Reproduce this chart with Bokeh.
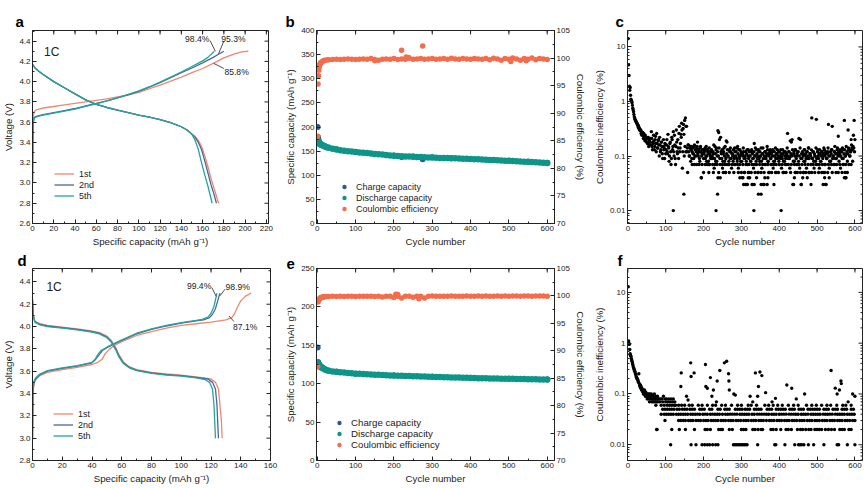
import math
from bokeh.plotting import figure
from bokeh.models import (LinearAxis, Range1d, SingleIntervalTicker, FixedTicker, PrintfTickFormatter,
                          Legend, LegendItem, Label, CustomJSTickFormatter)
from bokeh.layouts import row, column
from bokeh.embed import file_html
from bokeh.resources import INLINE

FONT = "Liberation Sans"
INK = "#222222"
C1, C2, C5 = "#F2876F", "#4B6798", "#22A59F"
C_CH, C_DIS, C_CE = "#2E5B8C", "#0E958A", "#F36C4C"

# ---------------- panel a : voltage profiles (cell 1) ----------------
a1_ch_cap = [0, 0.3, 0.7, 1.5, 3, 6, 10, 20, 30, 40, 50, 60, 70, 80, 90, 100, 110, 120, 130, 140, 150, 160, 170, 180, 190, 197, 203]
a1_ch_v = [3.00, 3.45, 3.66, 3.70, 3.72, 3.73, 3.74, 3.755, 3.77, 3.785, 3.80, 3.815, 3.83, 3.85, 3.87, 3.895, 3.93, 3.965, 4.005, 4.045, 4.09, 4.13, 4.18, 4.235, 4.275, 4.295, 4.30]
a2_ch_cap = [0, 0.3, 0.7, 1.5, 3, 6, 10, 20, 30, 40, 50, 60, 70, 80, 90, 100, 110, 120, 130, 140, 150, 160, 170, 175, 180]
a2_ch_v = [3.00, 3.40, 3.60, 3.645, 3.655, 3.665, 3.675, 3.695, 3.715, 3.735, 3.76, 3.785, 3.81, 3.84, 3.87, 3.905, 3.945, 3.99, 4.04, 4.09, 4.135, 4.185, 4.24, 4.27, 4.30]
a5_ch_cap = [0, 0.3, 0.7, 1.5, 3, 6, 10, 20, 30, 40, 50, 60, 70, 80, 90, 100, 110, 120, 130, 140, 150, 160, 165, 171]
a5_ch_v = [3.00, 3.38, 3.59, 3.635, 3.65, 3.66, 3.67, 3.69, 3.71, 3.73, 3.755, 3.78, 3.81, 3.84, 3.875, 3.91, 3.95, 3.995, 4.045, 4.095, 4.15, 4.205, 4.24, 4.30]
a1_dis_cap = [0, 2, 5, 10, 20, 30, 40, 50, 60, 70, 80, 90, 100, 110, 120, 130, 140, 145, 150, 153, 156, 159, 162, 165, 168, 171, 173, 175]
a1_dis_v = [4.17, 4.14, 4.11, 4.07, 4.00, 3.94, 3.88, 3.82, 3.775, 3.745, 3.72, 3.695, 3.67, 3.65, 3.625, 3.595, 3.555, 3.525, 3.48, 3.46, 3.42, 3.36, 3.27, 3.16, 3.04, 2.94, 2.87, 2.80]
a2_dis_cap = [0, 2, 5, 10, 20, 30, 40, 50, 60, 70, 80, 90, 100, 110, 120, 130, 140, 145, 150, 153, 156, 159, 162, 165, 168, 171, 173]
a2_dis_v = [4.17, 4.14, 4.11, 4.07, 4.00, 3.94, 3.88, 3.82, 3.775, 3.745, 3.72, 3.695, 3.67, 3.65, 3.625, 3.595, 3.555, 3.525, 3.48, 3.45, 3.40, 3.33, 3.22, 3.10, 2.98, 2.88, 2.80]
a5_dis_cap = [0, 2, 5, 10, 20, 30, 40, 50, 60, 70, 80, 90, 100, 110, 120, 130, 140, 145, 150, 153, 156, 159, 162, 165, 169]
a5_dis_v = [4.17, 4.14, 4.11, 4.07, 4.00, 3.94, 3.88, 3.82, 3.775, 3.745, 3.72, 3.695, 3.67, 3.65, 3.625, 3.595, 3.555, 3.525, 3.48, 3.42, 3.33, 3.20, 3.08, 2.97, 2.80]
a_ann_text = ["98.4%", "95.3%", "85.8%"]
a_ann_x = [155, 189, 192]
a_ann_y = [4.425, 4.425, 4.10]
a_lead_x0 = [167, 180, 180]
a_lead_y0 = [4.405, 4.40, 4.13]
a_lead_x1 = [172, 175, 170.5]
a_lead_y1 = [4.30, 4.275, 4.18]

# ---------------- panel d : voltage profiles (cell 2) ----------------
d1_ch_cap = [0, 0.3, 1, 2, 5, 10, 20, 30, 40, 44, 47, 49, 52, 55, 60, 70, 80, 90, 100, 110, 120, 130, 134, 136, 138, 140, 143, 147]
d1_ch_v = [3.00, 3.40, 3.49, 3.52, 3.56, 3.59, 3.615, 3.635, 3.66, 3.68, 3.71, 3.76, 3.80, 3.83, 3.865, 3.92, 3.955, 3.985, 4.01, 4.025, 4.04, 4.06, 4.08, 4.12, 4.18, 4.23, 4.27, 4.30]
d2_ch_cap = [0, 0.3, 1, 2, 5, 10, 20, 30, 40, 42, 45, 47, 50, 55, 60, 70, 80, 90, 100, 110, 115, 119, 121, 123, 124.5, 126]
d2_ch_v = [3.00, 3.42, 3.50, 3.53, 3.57, 3.60, 3.625, 3.645, 3.675, 3.70, 3.75, 3.785, 3.81, 3.845, 3.875, 3.935, 3.975, 4.005, 4.03, 4.05, 4.06, 4.08, 4.11, 4.16, 4.23, 4.30]
d5_ch_cap = [0, 0.3, 1, 2, 5, 10, 20, 30, 40, 42, 44, 46, 50, 55, 60, 70, 80, 90, 100, 110, 114, 118, 120, 122, 123, 124]
d5_ch_v = [3.00, 3.44, 3.51, 3.54, 3.575, 3.605, 3.63, 3.65, 3.68, 3.705, 3.75, 3.785, 3.815, 3.85, 3.88, 3.94, 3.98, 4.01, 4.035, 4.055, 4.065, 4.085, 4.12, 4.18, 4.24, 4.30]
d1_dis_cap = [0, 0.5, 1.5, 5, 10, 20, 30, 40, 45, 50, 53, 56, 58, 61, 65, 70, 80, 90, 100, 110, 120, 123, 125, 126, 127, 127.5]
d1_dis_v = [4.24, 4.11, 4.05, 4.025, 4.01, 3.995, 3.98, 3.96, 3.945, 3.915, 3.875, 3.81, 3.75, 3.685, 3.64, 3.615, 3.59, 3.575, 3.565, 3.55, 3.53, 3.50, 3.44, 3.30, 3.15, 3.00]
d2_dis_cap = [0, 0.5, 1.5, 5, 10, 20, 30, 40, 45, 50, 53, 56, 58, 61, 65, 70, 80, 90, 100, 110, 118, 121, 123, 124, 124.5, 125]
d2_dis_v = [4.24, 4.10, 4.045, 4.02, 4.005, 3.99, 3.975, 3.955, 3.94, 3.905, 3.865, 3.80, 3.74, 3.675, 3.635, 3.61, 3.585, 3.57, 3.56, 3.545, 3.53, 3.50, 3.44, 3.30, 3.15, 3.00]
d5_dis_cap = [0, 0.5, 1.5, 5, 10, 20, 30, 40, 45, 50, 53, 56, 58, 61, 65, 70, 80, 90, 100, 110, 116, 119, 121, 122, 122.5, 123]
d5_dis_v = [4.24, 4.10, 4.04, 4.015, 4.00, 3.985, 3.97, 3.95, 3.935, 3.90, 3.86, 3.79, 3.73, 3.67, 3.63, 3.605, 3.58, 3.565, 3.555, 3.54, 3.525, 3.50, 3.44, 3.30, 3.15, 3.00]
d_ann_text = ["99.4%", "98.9%", "87.1%"]
d_ann_x = [112, 138, 143]
d_ann_y = [4.365, 4.35, 3.995]
d_lead_x0 = [120.5, 129.5, 135.5]
d_lead_y0 = [4.35, 4.335, 4.045]
d_lead_x1 = [123.5, 126, 132]
d_lead_y1 = [4.27, 4.275, 4.095]

# ---------------- panels b / e : cycling ----------------
cap_cycles_early = [1, 2, 3, 4, 5, 6, 8, 10, 12, 15, 20, 25]
ce_cycles_early = [1, 2, 3, 4, 5, 6, 7, 8, 9, 10, 12, 14, 16, 18, 20, 25]
b_dis_early = [172, 170, 168.5, 167.5, 166.5, 165.5, 164.5, 163.5, 162.5, 161.5, 159.5, 158]
b_dis_late = [157, 155, 153.5, 152, 151, 150, 149, 148, 147, 146.5,
              146, 145, 144, 143.5, 143, 142, 141, 140.5, 140, 139.5,
              139, 139, 138.5, 138, 138, 137.5, 137, 137, 136.5, 136,
              136, 135.5, 135, 135, 134.5, 134, 134, 133.5, 133, 133,
              132.5, 132, 131.5, 131.5, 131, 130.5, 130, 130, 129.5, 129,
              128.5, 128, 128, 127.5, 127, 126.5, 126, 125.5]
b_ch_cycles = [1, 2, 3, 5, 10, 20, 50, 100, 150, 200, 220, 250, 275, 300, 350, 400, 450, 500, 550, 600]
b_ch_vals = [200, 178.5, 174, 169, 164.5, 160, 154, 148.3, 144.3, 140.8, 137.6, 138.7, 133, 137.2, 135.2, 133.7, 131.7, 130.2, 128.2, 125.7]
b_ce_early = [85.8, 95.3, 96.8, 97.8, 98.4, 98.7, 98.9, 99.0, 99.1, 99.2, 99.3, 99.4, 99.5, 99.55, 99.6, 99.65]
b_ce_late = [99.7, 99.75, 99.8, 99.75, 99.8, 99.85, 99.8, 99.75, 99.8, 99.85,
             99.8, 99.9, 99.75, 99.6, 99.8, 99.85, 99.8, 99.9, 99.75, 99.85,
             99.8, 99.95, 99.8, 99.85, 99.9, 99.8, 99.85, 99.9, 99.8, 99.85,
             99.9, 99.8, 99.95, 99.85, 99.8, 99.9, 99.85, 99.8, 99.9, 99.85,
             99.8, 99.9, 99.7, 99.95, 99.85, 99.6, 99.9, 99.8, 100.0, 99.85,
             99.6, 99.9, 99.8, 100.0, 99.7, 99.9, 99.85, 99.75]
b_ce_extra_cycles = [220, 275, 232, 238, 150, 505, 545]
b_ce_extra_vals = [101.4, 102.2, 100.2, 100.1, 99.5, 99.4, 99.5]

e_dis_early = [128, 126.5, 125.5, 124.5, 124, 123.5, 122.5, 121.5, 121, 120, 118.5, 117.5]
e_dis_late = [117, 116, 115.5, 115, 114.5, 114, 113.5, 113, 112.8, 112.5,
              112.2, 112, 111.7, 111.5, 111.3, 111, 110.8, 110.6, 110.4, 110.2,
              110, 109.9, 109.7, 109.6, 109.4, 109.3, 109.1, 109, 108.8, 108.7,
              108.5, 108.4, 108.2, 108.1, 108, 107.8, 107.7, 107.5, 107.4, 107.2,
              107.1, 107, 106.9, 106.8, 106.7, 106.6, 106.5, 106.4, 106.3, 106.2,
              106.1, 106, 105.9, 105.8, 105.7, 105.6, 105.5, 105.4]
e_ch_cycles = [1, 2, 3, 5, 10, 20, 50, 100, 200, 300, 400, 500, 600]
e_ch_vals = [147, 127.9, 126.5, 124.6, 121.8, 118.8, 115.6, 113.1, 110.7, 109.1, 107.6, 106.5, 105.5]
e_ce_early = [87.1, 98.9, 99.2, 99.3, 99.4, 99.5, 99.55, 99.6, 99.65, 99.7, 99.75, 99.8, 99.8, 99.85, 99.85, 99.9]
e_ce_late = [99.9, 99.92, 99.9, 99.93, 99.9, 99.92, 99.93, 99.9, 99.94, 99.92,
             99.93, 99.95, 99.9, 99.94, 99.8, 99.96, 99.93, 99.7, 99.95, 99.6,
             99.94, 99.96, 99.75, 99.95, 99.93, 99.6, 99.96, 99.97, 99.95, 99.94,
             99.96, 99.95, 99.97, 99.94, 99.96, 99.95, 99.97, 99.96, 99.95, 99.97,
             99.96, 99.97, 99.95, 99.96, 99.98, 99.96, 99.97, 99.95, 99.98, 99.97,
             99.96, 99.98, 99.97, 99.96, 99.98, 99.97, 99.98, 99.96]
e_ce_extra_cycles = [205, 210, 265]
e_ce_extra_vals = [100.3, 100.25, 99.5]

# ---------------- panel c : coulombic inefficiency (cell 1) ----------------
c_early = [14.2, 4.7, 3.0, 1.9, 1.6, 1.8, 1.3, 1.1, 1.05, 1.0, 0.95, 0.85, 0.75, 0.7, 0.65, 0.58, 0.52, 0.5, 0.47, 0.45]
c_even = [0.42, 0.40, 0.37, 0.36, 0.33, 0.31, 0.30, 0.28, 0.27, 0.25, 0.26, 0.22, 0.24, 0.2, 0.21, 0.17, 0.22, 0.19, 0.16, 0.21,
          0.28, 0.15, 0.18, 0.24, 0.13, 0.2, 0.17, 0.26, 0.14, 0.19, 0.16, 0.22, 0.12, 0.18, 0.15, 0.09, 0.2, 0.14, 0.17, 0.11,
          0.16, 0.12, 0.25, 0.14, 0.1, 0.18, 0.07, 0.22, 0.13, 0.28, 0.1, 0.16, 0.07, 0.3, 0.12, 0.2, 0.09, 0.35, 0.14, 0.25,
          0.4, 0.06, 0.32, 0.25, 0.45, 0.5, 0.35, 0.12, 0.05, 0.16, 0.1, 0.14, 0.08, 0.15, 0.12, 0.11, 0.09, 0.16, 0.13, 0.1,
          0.14, 0.18, 0.1, 0.12, 0.08, 0.15, 0.04, 0.11, 0.13, 0.09, 0.12, 0.14, 0.1, 0.08, 0.13, 0.11, 0.07, 0.12, 0.1, 0.09,
          0.12, 0.09, 0.11, 0.06, 0.15, 0.08, 0.14, 0.1, 0.29, 0.27, 0.2, 0.04, 0.12, 0.09, 0.06, 0.11, 0.14, 0.08, 0.05, 0.19,
          0.18, 0.1, 0.07, 0.13, 0.09, 0.12, 0.06, 0.11, 0.08, 0.1, 0.14, 0.07, 0.12, 0.09, 0.15, 0.06, 0.1, 0.13, 0.08, 0.11,
          0.04, 0.1, 0.12, 0.05, 0.09, 0.03, 0.11, 0.07, 0.13, 0.05, 0.1, 0.08, 0.12, 0.03, 0.09, 0.06, 0.17, 0.1, 0.07, 0.13,
          0.09, 0.05, 0.12, 0.08, 0.1, 0.14, 0.06, 0.11, 0.09, 0.03, 0.12, 0.07, 0.1, 0.15, 0.08, 0.11, 0.05, 0.13, 0.09, 0.07,
          0.12, 0.06, 0.1, 0.08, 0.14, 0.05, 0.11, 0.09, 0.12, 0.07, 0.1, 0.13, 0.06, 0.09, 0.11, 0.05, 0.08, 0.12, 0.1, 0.07,
          0.26, 0.09, 0.12, 0.06, 0.1, 0.18, 0.2, 0.03, 0.11, 0.08, 0.13, 0.05, 0.1, 0.07, 0.12, 0.21, 0.06, 0.2, 0.03, 0.09,
          0.11, 0.05, 0.13, 0.08, 0.1, 0.06, 0.12, 0.09, 0.14, 0.05, 0.11, 0.07, 0.5, 0.09, 0.12, 0.06, 0.1, 0.08, 0.47, 0.07,
          0.13, 0.09, 0.06, 0.11, 0.08, 0.12, 0.1, 0.05, 0.14, 0.07, 0.11, 0.03, 0.09, 0.12, 0.38, 0.06, 0.1, 0.08, 0.13, 0.35,
          0.1, 0.07, 0.12, 0.09, 0.05, 0.11, 0.14, 0.23, 0.08, 0.1, 0.06, 0.12, 0.09, 0.13, 0.07, 0.45, 0.1, 0.04, 0.11, 0.08,
          0.3, 0.13, 0.1, 0.12, 0.2, 0.14, 0.08, 0.24, 0.45, 0.2]
c_odd = [0.44, 0.41, 0.38, 0.34, 0.32, 0.3, 0.29, 0.26, 0.24, 0.27, 0.21, 0.23, 0.19, 0.2, 0.18, 0.22, 0.17, 0.15, 0.2, 0.18,
         0.16, 0.21, 0.13, 0.17, 0.19, 0.15, 0.23, 0.12, 0.17, 0.14, 0.2, 0.1, 0.16, 0.13, 0.18, 0.11, 0.15, 0.13, 0.09, 0.16,
         0.13, 0.2, 0.11, 0.15, 0.08, 0.17, 0.12, 0.09, 0.2, 0.15, 0.12, 0.24, 0.09, 0.15, 0.18, 0.11, 0.14, 0.26, 0.12, 0.17,
         0.22, 0.3, 0.12, 0.38, 0.1, 0.15, 0.12, 0.35, 0.14, 0.16, 0.12, 0.1, 0.15, 0.13, 0.09, 0.14, 0.11, 0.15, 0.1, 0.13,
         0.12, 0.15, 0.11, 0.13, 0.09, 0.14, 0.12, 0.1, 0.13, 0.11]
c_odd_late = [0.11, 0.13, 0.09, 0.15, 0.1, 0.12, 0.08, 0.14, 0.11, 0.09, 0.13, 0.1, 0.12, 0.16, 0.09, 0.11, 0.13, 0.08, 0.12, 0.1,
              0.14, 0.09, 0.22, 0.11, 0.13, 0.08, 0.12, 0.1, 0.15, 0.09, 0.11, 0.13, 0.1, 0.08, 0.12, 0.14, 0.09, 0.11, 0.1, 0.13,
              0.09, 0.12, 0.1, 0.14, 0.08, 0.11, 0.13, 0.09, 0.1, 0.12, 0.08, 0.11, 0.14, 0.09, 0.1, 0.12, 0.08, 0.13, 0.1, 0.09,
              0.12, 0.1, 0.08, 0.13, 0.11, 0.09, 0.12, 0.1, 0.14, 0.08, 0.11, 0.1, 0.13, 0.09, 0.12, 0.1, 0.08, 0.11, 0.14, 0.09,
              0.1, 0.12, 0.09, 0.11, 0.13, 0.08, 0.1, 0.12, 0.09, 0.11, 0.1, 0.13, 0.08, 0.12, 0.1, 0.09, 0.11, 0.13, 0.1, 0.08,
              0.12, 0.09, 0.11, 0.1, 0.13, 0.08, 0.12, 0.1, 0.09, 0.11, 0.14, 0.1, 0.12, 0.09, 0.19, 0.11, 0.1, 0.13, 0.08, 0.12,
              0.1, 0.13, 0.09, 0.11, 0.12, 0.08, 0.1, 0.14, 0.09, 0.11, 0.12, 0.1, 0.08, 0.13, 0.11, 0.09, 0.12, 0.1, 0.14, 0.09,
              0.11, 0.1, 0.13, 0.09, 0.12, 0.08, 0.11, 0.1, 0.14, 0.09, 0.12, 0.1, 0.11, 0.13, 0.08, 0.1, 0.12, 0.09, 0.11, 0.13,
              0.1, 0.12, 0.09, 0.11, 0.14, 0.1, 0.08, 0.12, 0.11, 0.13, 0.09, 0.1, 0.12, 0.15, 0.11, 0.09, 0.13, 0.1, 0.12, 0.11,
              0.13, 0.1, 0.12, 0.14, 0.09, 0.11, 0.13, 0.1, 0.15, 0.12, 0.11, 0.14, 0.13, 0.1, 0.12, 0.16, 0.13, 0.15, 0.14, 0.12]
c_row_levels = [0.07, 0.05, 0.04, 0.03, 0.02, 0.01]
c_row_cycles = [
    [170, 176, 182, 188, 196, 204, 210, 216, 224, 230, 236, 244, 250, 256, 262, 268, 276, 282, 290, 296, 304, 312, 320, 328, 334,
     340, 348, 356, 362, 370, 378, 386, 392, 400, 408, 416, 424, 432, 440, 446, 452, 460, 468, 476, 484, 490, 498, 506, 514, 522,
     530, 538, 546, 552, 560, 568, 576, 584, 590],
    [200, 214, 226, 240, 252, 258, 268, 280, 292, 300, 308, 318, 326, 336, 344, 352, 360, 372, 380, 390, 398, 410, 418, 430, 442,
     448, 456, 464, 470, 478, 486, 494, 504, 512, 520, 528, 540, 556, 566, 574, 580],
    [194, 238, 296, 304, 318, 322, 340, 362, 370, 440, 462, 474, 520, 532, 572, 576],
    [306, 312, 316, 330, 334, 352, 358, 368, 386, 438, 458, 484, 516, 522],
    [148, 237, 345, 352],
    [120, 233, 333, 405]]

# ---------------- panel f : coulombic inefficiency (cell 2) ----------------
f_early = [12.9, 1.1, 1.0, 0.95, 0.75, 0.62, 0.58, 0.55, 0.5, 0.47,
           0.44, 0.41, 0.38, 0.35, 0.33, 0.31, 0.3, 0.28, 0.27, 0.25,
           0.24, 0.22, 0.21, 0.2, 0.2, 0.19, 0.18, 0.17, 0.25, 0.16,
           0.15, 0.14, 0.15, 0.13, 0.14, 0.12, 0.13, 0.12, 0.11, 0.12,
           0.1, 0.11, 0.1, 0.12, 0.1, 0.09, 0.11, 0.1, 0.09, 0.1,
           0.08, 0.1, 0.09, 0.08, 0.1, 0.09, 0.07, 0.1, 0.08, 0.09,
           0.08, 0.1, 0.07, 0.09, 0.08, 0.07, 0.09, 0.08, 0.07, 0.1,
           0.08, 0.07, 0.09, 0.06, 0.08, 0.07, 0.02, 0.09, 0.07, 0.08]
f_mid = [0.08, 0.07, 0.08, 0.06, 0.08, 0.07, 0.09, 0.06, 0.08, 0.07, 0.08, 0.06, 0.07, 0.08, 0.06, 0.07, 0.08, 0.06, 0.07, 0.08, 0.06, 0.07]
f_high_cycles = [141, 140, 166, 167, 175, 155, 159, 205, 206, 210, 218, 222, 226, 236, 243, 255, 261, 266, 267, 268, 280, 284, 234,
                 337, 349, 354, 345, 343, 364, 323, 420, 433, 445, 467, 390, 537, 548, 553, 559, 563, 564, 594, 600, 582, 330, 381]
f_high_vals = [0.26, 0.14, 0.41, 0.22, 0.26, 0.09, 0.076, 0.38, 0.14, 0.13, 0.21, 0.09, 0.12, 0.18, 0.29, 0.41, 0.44, 0.25, 0.18, 0.12, 0.1, 0.095, 0.07,
               0.26, 0.27, 0.23, 0.14, 0.09, 0.106, 0.09, 0.15, 0.13, 0.08, 0.1, 0.082, 0.29, 0.13, 0.1, 0.12, 0.18, 0.16, 0.1, 0.09, 0.07, 0.07, 0.07]
f_row_levels = [0.06, 0.05, 0.04, 0.03, 0.02, 0.01]
f_row_cycles = [
    [126, 134, 142, 150, 162, 170, 186, 196, 210, 224, 232, 248, 258, 274, 290, 300, 318, 326, 340, 362, 372, 384, 396, 408, 424,
     438, 450, 472, 486, 498, 512, 526, 536, 552, 568, 576, 590],
    [92, 98, 104, 110, 116, 122, 130, 136, 144, 150, 156, 164, 170, 176, 190, 196, 202, 216, 222, 238, 244, 256, 262, 268, 284,
     290, 296, 302, 310, 316, 322, 334, 340, 346, 352, 368, 374, 380, 392, 398, 404, 410, 416, 428, 434, 440, 452, 458, 464, 476,
     482, 488, 494, 500, 506, 518, 524, 530, 542, 548, 554, 566, 572, 578, 590, 596],
    [88, 96, 102, 108, 114, 120, 128, 134, 140, 146, 152, 158, 166, 172, 178, 184, 190, 198, 204, 210, 218, 224, 230, 236, 242,
     250, 258, 264, 270, 276, 282, 288, 296, 302, 308, 314, 320, 328, 334, 342, 348, 354, 360, 366, 372, 380, 386, 392, 400, 406,
     412, 418, 426, 432, 438, 444, 450, 458, 464, 470, 476, 484, 490, 496, 502, 508, 516, 522, 528, 534, 540, 548, 554, 560, 566,
     572, 580, 586, 592, 598],
    [98, 134, 140, 146, 152, 160, 166, 172, 180, 186, 192, 200, 206, 212, 220, 226, 232, 238, 246, 252, 258, 266, 272, 278, 286,
     292, 298, 306, 312, 318, 326, 332, 338, 346, 352, 358, 366, 374, 380, 386, 394, 400, 406, 414, 420, 426, 434, 440, 446, 454,
     460, 466, 474, 480, 486, 494, 500, 506, 514, 520, 526, 534, 540, 546, 554, 560, 566, 574, 580, 586, 594, 600],
    [76, 116, 136, 152, 176, 204, 210, 218, 240, 246, 250, 268, 276, 300, 306, 312, 330, 336, 344, 352, 356, 378, 384, 392, 404,
     418, 424, 432, 448, 456, 462, 470, 478, 484, 494, 500, 506, 512, 522, 530, 538, 546, 560, 566, 572, 584, 590],
    [113, 167, 180, 196, 203, 210, 216, 224, 232, 238, 279, 283, 287, 291, 295, 299, 303, 307, 311, 315, 343, 388, 391, 415, 441,
     451, 455, 459, 465, 477, 491, 518, 553, 557, 580, 600]]

# ---------------- helpers ----------------
def style_axis(ax):
    ax.axis_line_color = INK
    ax.major_tick_line_color = INK
    ax.minor_tick_line_color = INK
    ax.major_tick_in = 4
    ax.major_tick_out = 0
    ax.minor_tick_in = 2
    ax.minor_tick_out = 0
    ax.major_label_text_font = FONT
    ax.major_label_text_color = INK
    ax.major_label_text_font_size = "8px"
    ax.major_label_standoff = 2
    ax.axis_label_text_font = FONT
    ax.axis_label_text_font_style = "normal"
    ax.axis_label_text_color = INK
    ax.axis_label_text_font_size = "9.7px"
    ax.axis_label_standoff = 2


def make_fig(w, h, xr, yr, bl, br, bt, bb, log=False):
    p = figure(width=w, height=h, x_range=xr, y_range=yr, output_backend="svg",
               toolbar_location=None, y_axis_type="log" if log else "linear",
               min_border_left=bl, min_border_right=br, min_border_top=bt, min_border_bottom=bb)
    p.xgrid.visible = False
    p.ygrid.visible = False
    p.outline_line_color = INK
    p.outline_line_width = 1
    p.background_fill_color = "white"
    p.border_fill_color = "white"
    return p


def mirror_x(p, ytop, majors, minors):
    p.ray(x=majors, y=[ytop] * len(majors), length=4, angle=-math.pi / 2, length_units="screen",
          line_color=INK, line_width=1)
    p.ray(x=minors, y=[ytop] * len(minors), length=2, angle=-math.pi / 2, length_units="screen",
          line_color=INK, line_width=1)


def mirror_y(p, xright, majors, minors):
    p.ray(x=[xright] * len(majors), y=majors, length=4, angle=math.pi, length_units="screen",
          line_color=INK, line_width=1)
    p.ray(x=[xright] * len(minors), y=minors, length=2, angle=math.pi, length_units="screen",
          line_color=INK, line_width=1)


def letter(p, txt, offset, standoff):
    p.title.text = txt
    p.title.align = "left"
    p.title.offset = offset
    p.title.standoff = standoff
    p.title.text_font = FONT
    p.title.text_font_size = "15px"
    p.title.text_font_style = "bold"
    p.title.text_color = "black"


def tick_positions(lo, hi, step):
    n0 = math.ceil(lo / step - 1e-9)
    n1 = math.floor(hi / step + 1e-9)
    return [round(k * step, 6) for k in range(n0, n1 + 1)]


LOG_MAJ = [0.01, 0.1, 1, 10]
LOG_MIN = [k * 10.0 ** e for e in range(-3, 2) for k in range(2, 10)]


# ---------------- voltage-profile panels ----------------
def voltage_panel(w, h, bl, br, bt, bb, xmax, ymin, ymax, curves, ann, leads, onec, legend_xy):
    p = make_fig(w, h, Range1d(0, xmax), Range1d(ymin, ymax), bl, br, bt, bb)
    p.xaxis.ticker = SingleIntervalTicker(interval=20, num_minor_ticks=2)
    p.yaxis.ticker = SingleIntervalTicker(interval=0.2, num_minor_ticks=2)
    p.yaxis.formatter = PrintfTickFormatter(format="%.1f")
    p.xaxis.axis_label = "Specific capacity (mAh g\u207b\u00b9)"
    p.yaxis.axis_label = "Voltage (V)"
    style_axis(p.xaxis[0])
    style_axis(p.yaxis[0])
    mirror_x(p, ymax, tick_positions(0, xmax, 20), tick_positions(10, xmax, 20))
    mirror_y(p, xmax, tick_positions(ymin, ymax, 0.2), [v + 0.1 for v in tick_positions(ymin, ymax - 0.1, 0.2)])
    items = []
    for name, col, (cx, cy), (dx, dy) in curves:
        r = p.line(cx, cy, line_color=col, line_width=1.3)
        p.line(dx, dy, line_color=col, line_width=1.3)
        items.append(LegendItem(label=name, renderers=[r]))
    tx, ty, tt = ann
    for xx, yy, t in zip(tx, ty, tt):
        p.add_layout(Label(x=xx, y=yy, text=t, text_font=FONT, text_font_size="8.6px",
                           text_color=INK, text_align="center", text_baseline="middle"))
    x0, y0, x1, y1 = leads
    p.segment(x0=x0, y0=y0, x1=x1, y1=y1, line_color=INK, line_width=0.8)
    p.add_layout(Label(x=onec[0], y=onec[1], text="1C", text_font=FONT, text_font_size="12px",
                       text_color=INK, text_align="center", text_baseline="middle"))
    leg = Legend(items=items, location=legend_xy, border_line_alpha=0, background_fill_alpha=0,
                 padding=0, margin=0, spacing=0, label_text_font=FONT, label_text_font_size="9px",
                 label_text_color=INK, glyph_width=20, glyph_height=11, label_height=11, label_standoff=5)
    p.add_layout(leg)
    return p


# ---------------- cycling panels ----------------
def cycling_panel(w, h, bl, br, bt, bb, ymax, ch, dis, ce, legend_xy, legend_font):
    p = make_fig(w, h, Range1d(-2, 619), Range1d(0, ymax), bl, br, bt, bb)
    p.extra_y_ranges = {"ce": Range1d(70, 105)}
    p.xaxis.ticker = SingleIntervalTicker(interval=100, num_minor_ticks=2)
    p.yaxis.ticker = SingleIntervalTicker(interval=50, num_minor_ticks=2)
    p.xaxis.axis_label = "Cycle number"
    p.yaxis.axis_label = "Specific capacity (mAh g\u207b\u00b9)"
    style_axis(p.xaxis[0])
    style_axis(p.yaxis[0])
    rax = LinearAxis(y_range_name="ce", axis_label="Coulombic efficiency (%)",
                     ticker=SingleIntervalTicker(interval=5, num_minor_ticks=2))
    style_axis(rax)
    p.add_layout(rax, "right")
    mirror_x(p, ymax, tick_positions(0, 619, 100), tick_positions(50, 619, 100))
    r_ch = p.scatter(ch[0], ch[1], size=6, color=C_CH, line_width=0)
    r_dis = p.scatter(dis[0], dis[1], size=6.5, color=C_DIS, line_width=0)
    r_ce = p.scatter(ce[0], ce[1], size=5.5, color=C_CE, line_width=0, y_range_name="ce")
    leg = Legend(items=[LegendItem(label="Charge capacity", renderers=[r_ch]),
                        LegendItem(label="Discharge capacity", renderers=[r_dis]),
                        LegendItem(label="Coulombic efficiency", renderers=[r_ce])],
                 location=legend_xy, border_line_alpha=0, background_fill_alpha=0,
                 padding=0, margin=0, spacing=0, label_text_font=FONT, label_text_font_size=legend_font,
                 label_text_color=INK, glyph_width=12, glyph_height=11, label_height=11, label_standoff=6)
    p.add_layout(leg)
    return p


def ineff_panel(w, h, bl, br, bt, bb, ylo, yhi, xs, ys):
    p = make_fig(w, h, Range1d(-1, 620), Range1d(ylo, yhi), bl, br, bt, bb, log=True)
    p.xaxis.ticker = SingleIntervalTicker(interval=100, num_minor_ticks=2)
    p.yaxis.ticker = FixedTicker(ticks=LOG_MAJ, minor_ticks=[v for v in LOG_MIN if ylo < v < yhi])
    p.yaxis.formatter = CustomJSTickFormatter(code="return String(parseFloat(tick.toPrecision(3)));")
    p.xaxis.axis_label = "Cycle number"
    p.yaxis.axis_label = "Coulombic inefficiency (%)"
    style_axis(p.xaxis[0])
    style_axis(p.yaxis[0])
    mirror_x(p, yhi, tick_positions(0, 620, 100), tick_positions(50, 620, 100))
    mirror_y(p, 620, LOG_MAJ, [v for v in LOG_MIN if ylo < v < yhi])
    p.scatter(xs, ys, size=3.4, color="black", line_width=0)
    return p


def span(start, step, vals):
    return list(range(start, start + step * len(vals), step))


# ---- assemble data for b / e ----
def late(vals):
    return span(30, 10, vals)

b_ch = (b_ch_cycles, b_ch_vals)
b_dis = (cap_cycles_early + late(b_dis_late), b_dis_early + b_dis_late)
b_ce = (ce_cycles_early + late(b_ce_late) + b_ce_extra_cycles, b_ce_early + b_ce_late + b_ce_extra_vals)
e_ch = (e_ch_cycles, e_ch_vals)
e_dis = (cap_cycles_early + late(e_dis_late), e_dis_early + e_dis_late)
e_ce = (ce_cycles_early + late(e_ce_late) + e_ce_extra_cycles, e_ce_early + e_ce_late + e_ce_extra_vals)

# ---- assemble data for c / f ----
c_x = span(1, 1, c_early) + span(22, 2, c_even) + span(21, 2, c_odd) + span(201, 2, c_odd_late)
c_y = c_early + c_even + c_odd + c_odd_late
for lvl, cyc in zip(c_row_levels, c_row_cycles):
    c_x += cyc
    c_y += [lvl] * len(cyc)
f_x = span(1, 1, f_early) + span(82, 2, f_mid) + f_high_cycles
f_y = f_early + f_mid + f_high_vals
for lvl, cyc in zip(f_row_levels, f_row_cycles):
    f_x += cyc
    f_y += [lvl] * len(cyc)

# ---------------- build figures ----------------
H1, H2 = 249, 238
pa = voltage_panel(282, H1, 30, 14, 30, 26, 222, 2.6, 4.505,
                   [("1st", C1, (a1_ch_cap, a1_ch_v), (a1_dis_cap, a1_dis_v)),
                    ("2nd", C2, (a2_ch_cap, a2_ch_v), (a2_dis_cap, a2_dis_v)),
                    ("5th", C5, (a5_ch_cap, a5_ch_v), (a5_dis_cap, a5_dis_v))],
                   (a_ann_x, a_ann_y, a_ann_text), (a_lead_x0, a_lead_y0, a_lead_x1, a_lead_y1),
                   (18, 4.29), (22, 22))
pb = cycling_panel(308, H1, 30, 36, 30, 26, 400, b_ch, b_dis, b_ce, (22, 9), "9px")
pc = ineff_panel(274, H1, 32, 2, 30, 26, 0.0058, 20, c_x, c_y)

pd = voltage_panel(282, H2, 27, 12, 17, 27, 160, 2.8, 4.52,
                   [("1st", C1, (d1_ch_cap, d1_ch_v), (d1_dis_cap, d1_dis_v)),
                    ("2nd", C2, (d2_ch_cap, d2_ch_v), (d2_dis_cap, d2_dis_v)),
                    ("5th", C5, (d5_ch_cap, d5_ch_v), (d5_dis_cap, d5_dis_v))],
                   (d_ann_x, d_ann_y, d_ann_text), (d_lead_x0, d_lead_y0, d_lead_x1, d_lead_y1),
                   (14.5, 4.35), (21, 19))
pe = cycling_panel(308, H2, 30, 36, 17, 27, 250, e_ch, e_dis, e_ce, (17, 10), "9.7px")
pf = ineff_panel(274, H2, 32, 2, 17, 27, 0.0049, 29.5, f_x, f_y)

letter(pa, "a", -17, 2)
letter(pb, "b", -31, 2)
letter(pc, "c", -12, 2)
letter(pd, "d", -15, 0)
letter(pe, "e", -30, 0)
letter(pf, "f", -10, 0)

layout = column(row(pa, pb, pc), row(pd, pe, pf))
open("out.html", "w").write(file_html(layout, INLINE))
